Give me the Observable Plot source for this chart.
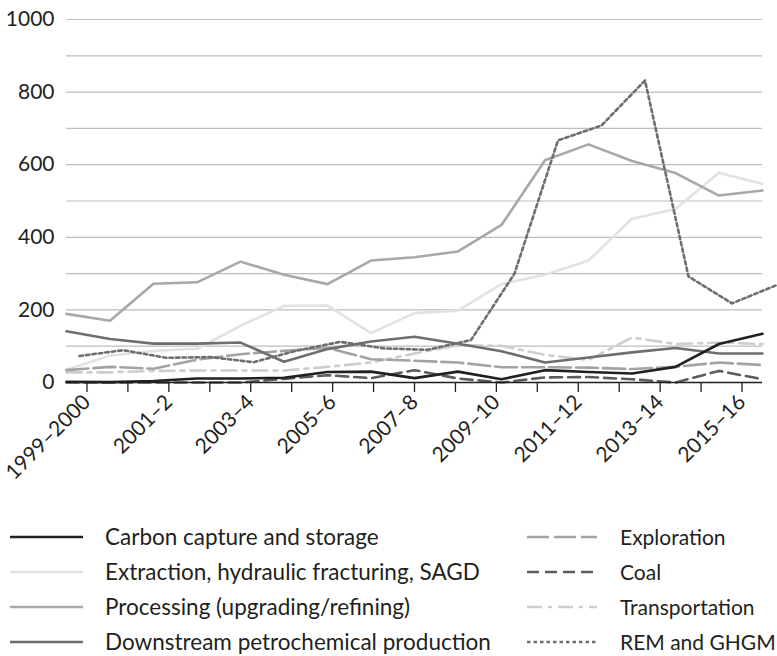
<!DOCTYPE html>
<html>
<head>
<meta charset="utf-8">
<script src="https://cdn.jsdelivr.net/npm/d3@7"></script>
<script src="https://cdn.jsdelivr.net/npm/@observablehq/plot@0.6"></script>
<style>
  body { margin: 0; background: #fff; font-family: Lato, sans-serif; color: #231f20; }
  #chart svg text { font-size: 21px; font-family: Lato, sans-serif; }
  #legend { display: grid; grid-template-columns: 517px 250px; grid-auto-rows: 35px; padding: 29px 0 0 10px; }
  .item { display: flex; align-items: center; font-size: 22.5px; white-space: nowrap; }
  .item svg { flex: none; margin-right: 22px; }
  .item.c1 { font-size: 21px; }
  .item.c1 svg { margin-right: 23px; }
</style>
</head>
<body>
<div id="chart"></div>
<div id="legend"></div>
<script>
const periods = ["1999–2000","2000–1","2001–2","2002–3","2003–4","2004–5","2005–6","2006–7","2007–8","2008–9","2009–10","2010–11","2011–12","2012–13","2013–14","2014–15","2015–16"];
const labelEvery = 2;
const yTicks = [0, 200, 400, 600, 800, 1000];
const yGrid = [100, 200, 300, 400, 500, 600, 700, 800, 900, 1000];

const ccs            = [2, 1, 4, 11, 11, 13, 29, 30, 12, 30, 9, 34, 29, 25, 43, 106, 134];
const extraction     = [35, 74, 87, 93, 156, 211, 212, 136, 191, 198, 271, 297, 336, 451, 478, 578, 547];
const processing     = [189, 170, 272, 276, 333, 297, 271, 336, 345, 361, 434, 612, 656, 610, 577, 515, 529];
const downstream     = [141, 120, 107, 107, 110, 57, 92, 113, 126, 107, 86, 55, 69, 83, 95, 80, 80];
const exploration    = [34, 43, 38, 63, 78, 87, 95, 64, 60, 55, 42, 42, 41, 37, 43, 55, 48];
const coal           = [0, 0, 0, 0, 0, 10, 20, 12, 34, 11, 0, 14, 15, 9, 0, 32, 9];
const transportation = [28, 28, 32, 33, 33, 33, 43, 55, 80, 103, 101, 76, 62, 124, 106, 110, 106];
const rem            = [73, 89, 68, 70, 56, 88, 112, 94, 90, 117, 300, 667, 708, 832, 292, 218, 267];

const series = [
  {name: "Carbon capture and storage", values: ccs, stroke: "#231f20", dash: null, col: 0, order: 8},
  {name: "Extraction, hydraulic fracturing, SAGD", values: extraction, stroke: "#e2e2e2", dash: null, col: 0, order: 1},
  {name: "Processing (upgrading/refining)", values: processing, stroke: "#a8a8a8", dash: null, col: 0, order: 2},
  {name: "Downstream petrochemical production", values: downstream, stroke: "#6e6e6e", dash: null, col: 0, order: 6},
  {name: "Exploration", values: exploration, stroke: "#a3a3a3", dash: "22,5", col: 1, order: 4},
  {name: "Coal", values: coal, stroke: "#5c5c5c", dash: "12,6", col: 1, order: 5},
  {name: "Transportation", values: transportation, stroke: "#cdcdcd", dash: "15,6,4,6", col: 1, order: 3},
  {name: "REM and GHGM", values: rem, stroke: "#6e6e6e", dash: "3.5,3", col: 1, order: 7, dx: 13}
];

const n = periods.length;
const idx = d3.range(n);
const tickPos = idx.map(i => (i + 0.5) * (n - 1) / n);
const labelIdx = idx.filter(i => i % labelEvery === 0);
const labelMap = new Map(labelIdx.map(i => [tickPos[i], periods[i]]));

const lineMarks = series.slice().sort((a, b) => a.order - b.order).map(s =>
  Plot.line(idx, {
    x: i => i, y: i => s.values[i],
    stroke: s.stroke, strokeWidth: 2.6, strokeDasharray: s.dash,
    curve: "linear", dx: s.dx || 0
  })
);

const chart = Plot.plot({
  width: 777, height: 490,
  marginLeft: 66, marginRight: 15, marginTop: 19, marginBottom: 108,
  style: {fontFamily: "Lato, sans-serif", fontSize: "21px", color: "#231f20", background: "#fff"},
  x: {type: "linear", domain: [0, n - 1]},
  y: {domain: [0, 1000]},
  marks: [
    Plot.ruleY(yGrid, {stroke: "#bdbdbd", strokeWidth: 1.2}),
    ...lineMarks,
    Plot.ruleY([0], {stroke: "#231f20", strokeWidth: 1.5}),
    Plot.axisX(tickPos, {tickSize: 10, tickFormat: () => "", label: null, stroke: "#231f20", strokeWidth: 1.3}),
    Plot.axisX(labelIdx.map(i => tickPos[i]), {tickSize: 0, tickPadding: 16, tickRotate: -45, tickFormat: t => labelMap.get(t), label: null, fill: "#231f20"}),
    Plot.axisY(yTicks, {tickSize: 0, tickPadding: 12, label: null, tickFormat: d => String(d), fill: "#231f20"})
  ]
});
document.getElementById("chart").appendChild(chart);

const legend = document.getElementById("legend");
const rows = 4;
for (let r = 0; r < rows; r++) {
  for (let c = 0; c < 2; c++) {
    const s = series.filter(d => d.col === c)[r];
    const item = document.createElement("div");
    item.className = "item c" + c;
    const w = c === 0 ? 73 : 70;
    item.innerHTML = `<svg width="${w}" height="10"><line x1="0" y1="5" x2="${w}" y2="5" stroke="${s.stroke}" stroke-width="2.6" ${s.dash ? `stroke-dasharray="${s.dash}"` : ""}/></svg><span>${s.name}</span>`;
    legend.appendChild(item);
  }
}
</script>
</body>
</html>
